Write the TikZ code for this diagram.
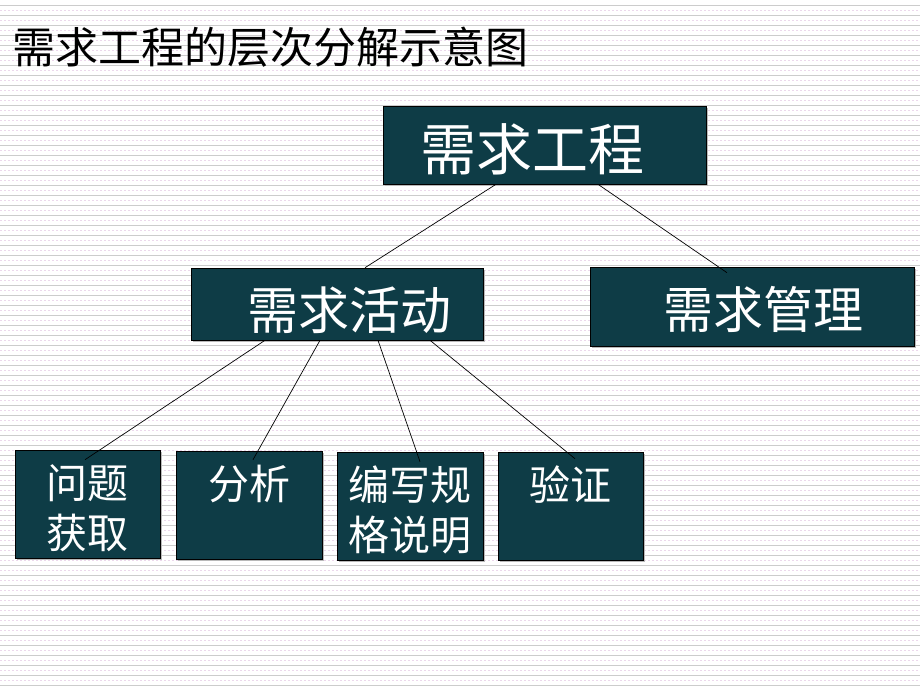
\documentclass[tikz,border=0pt]{standalone}
\usepackage{fontspec}
\newfontfamily\cjk{Noto Sans CJK SC}
\usepackage{tikz}
\usetikzlibrary{shadows}
\usepackage{xcolor}
\definecolor{boxteal}{RGB}{14,60,70}
\definecolor{stripegray}{RGB}{204,204,204}
\definecolor{stripepink}{RGB}{236,216,236}
\tikzstyle{box} = [rectangle, draw=black, fill=boxteal, text=white, inner sep=0pt, line width=0.6pt, drop shadow={shadow xshift=2pt, shadow yshift=-2pt, fill=gray!55, opacity=1}]
\tikzstyle{bigbox} = [box, font=\cjk\fontsize{51}{60}\selectfont, align=right]
\tikzstyle{smallbox} = [box, font=\cjk\fontsize{41}{50}\selectfont, align=center, text height=48pt, text depth=60pt]
\tikzstyle{link} = [line width=0.7pt, draw=black]

\begin{document}
\begin{tikzpicture}[x=1pt, y=-1pt]
% background
\fill[white] (0,0) rectangle (920,690);
\useasboundingbox (0,0) rectangle (920,690);
\foreach \y in {5,15,...,685} \draw[stripegray, line width=0.9pt] (0,\y) -- (920,\y);
\foreach \y in {10,20,...,680} \draw[stripepink, line width=0.8pt, dash pattern=on 2pt off 2pt] (0,\y) -- (920,\y);

% title
\node[anchor=base west, inner sep=0pt, font=\cjk\fontsize{43}{50}\selectfont] (title) at (12,64) {需求工程的层次分解示意图};

% top level
\node[box, font=\cjk\fontsize{56}{64}\selectfont, align=left, minimum width=323pt, minimum height=78pt, text width=249pt, text height=64pt, text depth=14pt] (eng) at (544.5,145) {需求工程};

% second level
\node[bigbox, minimum width=292pt, minimum height=72pt, text width=228pt, text height=61pt, text depth=11pt] (act) at (337,304) {需求活动};
\node[bigbox, font=\cjk\fontsize{50}{60}\selectfont, minimum width=324pt, minimum height=79pt, text width=222pt, text height=61pt, text depth=18pt] (mgmt) at (752,306.5) {需求管理};

% activities
\node[smallbox, minimum width=145pt, text width=145pt] (get) at (87.5,504) {问题\\获取};
\node[smallbox, minimum width=146pt, text width=146pt] (ana) at (249,505) {分析};
\node[smallbox, minimum width=146pt, text width=146pt] (spec) at (410,506) {编写规\\格说明};
\node[smallbox, minimum width=145pt, text width=145pt] (ver) at (570.5,506) {验证};

\draw[link] ([xshift=-48.5pt]eng.south) -- ([xshift=28pt]act.north);
\draw[link] ([xshift=53.5pt]eng.south) -- ([xshift=-25pt, yshift=-6pt]mgmt.north);
\draw[link] ([xshift=-72pt]act.south) -- ([xshift=-2.5pt, yshift=-10pt]get.north);
\draw[link] ([xshift=-17pt]act.south) -- ([xshift=4pt, yshift=-9pt]ana.north);
\draw[link] ([xshift=41pt]act.south) -- ([xshift=10pt, yshift=-10pt]spec.north);
\draw[link] ([xshift=93pt]act.south) -- ([xshift=4.5pt, yshift=-7pt]ver.north);
\end{tikzpicture}
\end{document}
